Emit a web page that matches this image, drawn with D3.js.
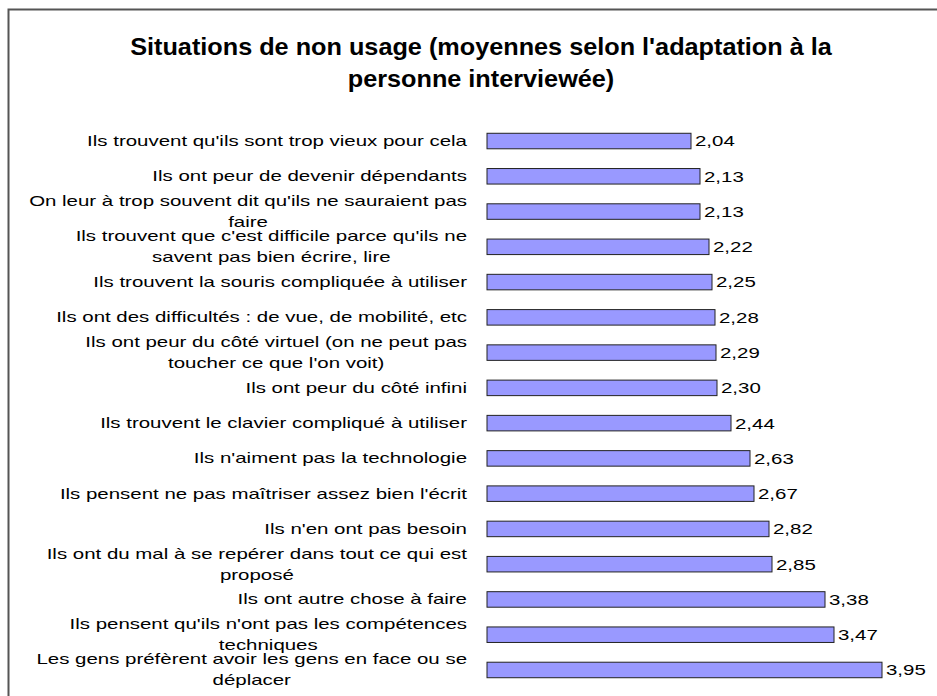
<!DOCTYPE html>
<html>
<head>
<meta charset="utf-8">
<script src="https://cdn.jsdelivr.net/npm/d3@7"></script>
<style>
  html, body { margin: 0; padding: 0; background: #fff; }
  svg { display: block; }
  text { font-family: "Liberation Sans", Arial, sans-serif; fill: #000; }
</style>
</head>
<body>
<svg id="chart" width="937" height="696"></svg>
<script>
const titleLines = [
  "Situations de non usage (moyennes selon l'adaptation à la",
  "personne interviewée)"
];
const categories = [
  "Ils trouvent qu'ils sont trop vieux pour cela",
  "Ils ont peur de devenir dépendants",
  "On leur à trop souvent dit qu'ils ne sauraient pas\nfaire",
  "Ils trouvent que c'est difficile parce qu'ils ne\nsavent pas bien écrire, lire",
  "Ils trouvent la souris compliquée à utiliser",
  "Ils ont des difficultés : de vue, de mobilité, etc",
  "Ils ont peur du côté virtuel (on ne peut pas\ntoucher ce que l'on voit)",
  "Ils ont peur du côté infini",
  "Ils trouvent le clavier compliqué à utiliser",
  "Ils n'aiment pas la technologie",
  "Ils pensent ne pas maîtriser assez bien l'écrit",
  "Ils n'en ont pas besoin",
  "Ils ont du mal à se repérer dans tout ce qui est\nproposé",
  "Ils ont autre chose à faire",
  "Ils pensent qu'ils n'ont pas les compétences\ntechniques",
  "Les gens préfèrent avoir les gens en face ou se\ndéplacer"
];
const values = [2.04, 2.13, 2.13, 2.22, 2.25, 2.28, 2.29, 2.30, 2.44, 2.63, 2.67, 2.82, 2.85, 3.38, 3.47, 3.95];

const svg = d3.select("#chart");

// frame
svg.append("rect")
  .attr("x", 8.5).attr("y", 9.5)
  .attr("width", 1000).attr("height", 1000)
  .attr("fill", "#fff")
  .attr("stroke", "#555").attr("stroke-width", 2);

// title (first line stretched to span the reference width)
const titleBase = [55, 87];
const t0 = svg.append("text").attr("font-size", 23).attr("font-weight", "bold").text(titleLines[0]);
const titleSX = 702 / t0.node().getComputedTextLength();
t0.remove();
titleLines.forEach((t, i) => {
  svg.append("text")
    .attr("transform", `translate(481, ${titleBase[i]}) scale(${titleSX},1)`)
    .attr("text-anchor", "middle")
    .attr("font-size", 23)
    .attr("font-weight", "bold")
    .text(t);
});

// scales
const x = d3.scaleLinear().domain([0, 4]).range([487, 887]);
const y = d3.scaleBand()
  .domain(categories)
  .range([123.4, 687.6])
  .paddingInner(0.56)
  .paddingOuter(0.28);

// bars
svg.append("g").selectAll("rect")
  .data(values)
  .join("rect")
  .attr("x", x(0))
  .attr("y", (d, i) => y(categories[i]))
  .attr("width", d => x(d) - x(0))
  .attr("height", y.bandwidth())
  .attr("fill", "#9999FF")
  .attr("stroke", "#222")
  .attr("stroke-width", 1);

// value labels
const fontSize = 15;
const labelSX = 1.363;
const fmt = d3.format(".2f");
svg.append("g").selectAll("text")
  .data(values)
  .join("text")
  .attr("transform", (d, i) => `translate(${x(d) + 4}, ${y(categories[i]) + y.bandwidth() / 2}) scale(${labelSX},1)`)
  .attr("dy", "0.36em")
  .attr("font-size", fontSize)
  .text(d => fmt(d).replace(".", ","));

// category labels (block right-aligned, lines centered inside block)
const labelRight = 467;
const lineH = 21;
categories.forEach((c, i) => {
  const lines = c.split("\n");
  const cy = y(c) + y.bandwidth() / 2;
  const g = svg.append("g").attr("transform", `translate(${labelRight}, ${cy}) scale(${labelSX},1)`);
  const texts = lines.map((ln, j) => g.append("text")
    .attr("font-size", fontSize)
    .attr("y", (j - (lines.length - 1) / 2) * lineH - 0.5)
    .attr("dy", "0.36em")
    .text(ln));
  const maxW = d3.max(texts, t => t.node().getComputedTextLength());
  texts.forEach(t => t.attr("text-anchor", "middle").attr("x", -maxW / 2));
});
</script>
</body>
</html>
